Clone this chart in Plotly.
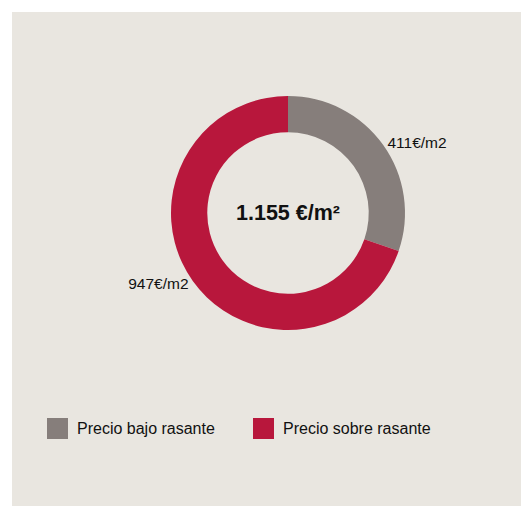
import plotly.graph_objects as go

labels = ["Precio bajo rasante", "Precio sobre rasante"]
values = [411, 947]
value_texts = ["411€/m2", "947€/m2"]
colors = ["#867e7b", "#b8173c"]
center_text = "1.155 €/m²"

W, H = 522, 506
BG = "#e9e6e0"
FONT = "Liberation Sans, Arial, sans-serif"

fig = go.Figure()
fig.add_trace(go.Pie(
    labels=labels,
    values=values,
    text=value_texts,
    texttemplate="%{text}",
    textposition="outside",
    textfont=dict(family=FONT, size=15.5, color="#111111"),
    marker=dict(colors=colors, line=dict(width=0)),
    hole=0.69,
    sort=False,
    direction="clockwise",
    rotation=0,
    showlegend=False,
    domain=dict(x=[(288 - 117) / W, (288 + 117) / W], y=[1 - 330 / H, 1 - 96 / H]),
    hoverinfo="label+value",
))

shapes = [dict(type="rect", xref="paper", yref="paper", x0=12 / W, x1=521 / W, y0=0, y1=1 - 12 / H,
               fillcolor=BG, line=dict(width=0), layer="below")]
annotations = [dict(text=f"<b>{center_text}</b>", x=288 / W, y=1 - 213 / H, xref="paper", yref="paper",
                    showarrow=False, font=dict(family=FONT, size=21.5, color="#111111"),
                    xanchor="center", yanchor="middle")]

legend_x = [47, 253]
for i, lab in enumerate(labels):
    x0 = legend_x[i]
    shapes.append(dict(type="rect", xref="paper", yref="paper",
                       x0=x0 / W, x1=(x0 + 21) / W, y0=1 - 439 / H, y1=1 - 418 / H,
                       fillcolor=colors[i], line=dict(width=0)))
    annotations.append(dict(text=lab, x=(x0 + 28) / W, y=1 - 428.5 / H, xref="paper", yref="paper",
                            showarrow=False, xanchor="left", yanchor="middle",
                            font=dict(family=FONT, size=16, color="#111111")))

fig.update_layout(
    width=W, height=H,
    margin=dict(l=0, r=0, t=0, b=0),
    paper_bgcolor="white",
    plot_bgcolor="white",
    shapes=shapes,
    annotations=annotations,
    font=dict(family=FONT),
)

fig.write_html("out.html")
